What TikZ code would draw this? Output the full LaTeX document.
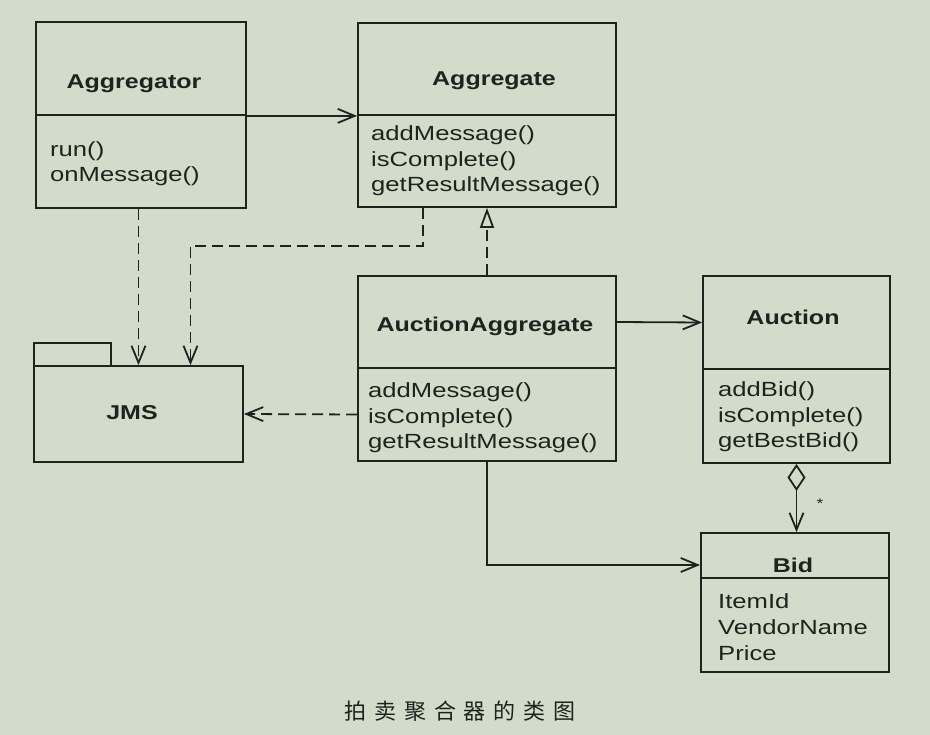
\documentclass[tikz,border=0pt]{standalone}
\usepackage{fontspec}
\setmainfont{Liberation Sans}[FakeStretch=1.25]
\newfontfamily\cjk{Noto Sans CJK SC}[LetterSpace=36]
\usepackage{xcolor}
\usetikzlibrary{arrows.meta}
\definecolor{Paper}{HTML}{D2DCCA}
\definecolor{Ink}{HTML}{1E241D}

\begin{document}
\begin{tikzpicture}[x=1pt,y=-1pt,
  box/.style={draw=Ink,line width=1.8pt,inner sep=0pt},
  classname/.style={font=\bfseries\fontsize{20}{24}\selectfont,text=Ink,anchor=base,inner sep=0pt},
  member/.style={font=\fontsize{20.5}{24}\selectfont,text=Ink,anchor=base west,inner sep=0pt},
  assoc/.style={draw=Ink,line width=1.8pt,-{Straight Barb[length=17pt,width=14pt]}},
  dep/.style={assoc,dash pattern=on 11pt off 6pt},
  real/.style={draw=Ink,line width=1.8pt,dash pattern=on 11pt off 6pt,-{Triangle[open,length=20pt,width=14pt,fill=Paper]}},
  aggr/.style={draw=Ink,line width=1.8pt,{Diamond[open,length=27pt,width=18pt,fill=Paper]}-{Straight Barb[length=17pt,width=14pt]}}]
\fill[Paper] (0,0) rectangle (930,735);
\useasboundingbox (0,0) rectangle (930,735);
% class boxes: head and body
\node[box,minimum width=210,minimum height=93] (aggtorHead) at (141,68.5) {};
\node[box,minimum width=210,minimum height=93] (aggtorBody) at (141,161.5) {};
\node[box,minimum width=258,minimum height=92] (aggHead) at (487,69) {};
\node[box,minimum width=258,minimum height=92] (aggBody) at (487,161) {};
\node[box,minimum width=258,minimum height=92] (auctAggHead) at (487,322) {};
\node[box,minimum width=258,minimum height=93] (auctAggBody) at (487,414.5) {};
\node[box,minimum width=187,minimum height=93] (auctionHead) at (796.5,322.5) {};
\node[box,minimum width=187,minimum height=94] (auctionBody) at (796.5,416) {};
\node[box,minimum width=188,minimum height=45] (bidHead) at (795,555.5) {};
\node[box,minimum width=188,minimum height=94] (bidBody) at (795,625) {};
% package
\node[box,minimum width=77,minimum height=23] (jmsTab) at (72.5,354.5) {};
\node[box,minimum width=209,minimum height=96] (jmsBody) at (138.5,414) {};
% names
\node[classname] (aggtorName) at (134,89) {Aggregator};
\node[classname] (aggName) at (494,86) {Aggregate};
\node[classname] (auctAggName) at (485,332) {AuctionAggregate};
\node[classname] (auctionName) at (793,325) {Auction};
\node[classname] (bidName) at (793,572) {Bid};
\node[classname] (jmsName) at (132,420) {JMS};
% members
\foreach \m [count=\i] in {run(),onMessage()}
  \node[member] (aggtorM\i) at (50,157+25*\i-25) {\m};
\foreach \m [count=\i] in {addMessage(),isComplete(),getResultMessage()}
  \node[member] (aggM\i) at (371,141+25.5*\i-25.5) {\m};
\foreach \m [count=\i] in {addMessage(),isComplete(),getResultMessage()}
  \node[member] (auctAggM\i) at (368,398+25.5*\i-25.5) {\m};
\foreach \m [count=\i] in {addBid(),isComplete(),getBestBid()}
  \node[member] (auctionM\i) at (718,397+25.5*\i-25.5) {\m};
\foreach \m [count=\i] in {ItemId,VendorName,Price}
  \node[member] (bidM\i) at (718,608+26*\i-26) {\m};
% connectors
\draw[assoc] (aggtorHead.south east) -- (aggHead.south west);
\draw[dep] (aggtorBody.south -| jmsBody.north) -- (jmsBody.north);
\draw[dep] ([xshift=-64pt]aggBody.south) -- ++(0,38) -| ([xshift=52pt]jmsBody.north);
\draw[real] (auctAggHead.north) -- (aggBody.south);
\draw[dep] (auctAggBody.west) -- (jmsBody.east);
\draw[assoc] (auctAggHead.east) -- (auctionHead.west);
\draw[assoc] (auctAggBody.south) |- ([yshift=-9.5pt]bidHead.west);
\draw[aggr] (auctionBody.south) -- (auctionBody.south |- bidHead.north);
\node[font=\fontsize{14}{16}\selectfont,text=Ink,anchor=base,inner sep=0pt] (mult) at (820,508) {*};
% caption
\node[font=\cjk\fontsize{22}{26}\selectfont,text=Ink] (caption) at (460,711) {拍卖聚合器的类图};
\end{tikzpicture}
\end{document}
